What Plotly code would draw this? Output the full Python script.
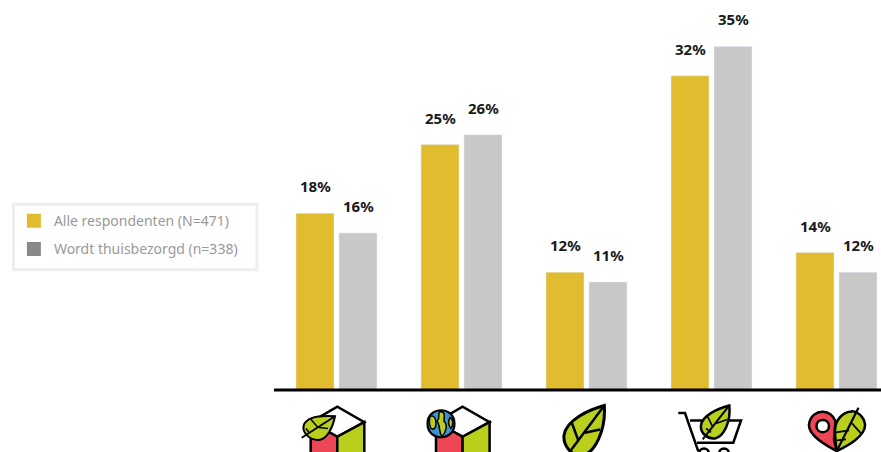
import plotly.graph_objects as go

categories = ["Woning blad", "Woning wereld", "Blad", "Winkelwagen", "Hart locatie"]
series_names = ["Alle respondenten (N=471)", "Wordt thuisbezorgd (n=338)"]
alle = [18, 25, 12, 32, 14]
thuis = [16, 26, 11, 35, 12]
value_labels_alle = ["18%", "25%", "12%", "32%", "14%"]
value_labels_thuis = ["16%", "26%", "11%", "35%", "12%"]

GOLD, GREY, SWATCH = "#e0bc2e", "#c8c8c8", "#888888"
RED, GREEN, BLUE = "#ee4655", "#b9cf1c", "#3f92d2"
W, H, L, BASE = 881, 452, 274, 390.5


def P(d):
    """Convert a pixel icon path to plot-relative paper coordinates."""
    out, isx = [], True
    for tok in d.split():
        if tok.isalpha():
            out.append(tok)
        else:
            v = float(tok)
            if isx:
                out.append(f"{(v - L) / (W - L):.5f}")
            else:
                out.append(f"{(BASE - v) / BASE:.5f}")
            isx = not isx
    return " ".join(out)


shapes = []


def add(d, fill="rgba(0,0,0,0)", lw=2.5):
    shapes.append(dict(type="path", path=P(d), xref="paper", yref="paper", layer="above",
                       fillcolor=fill, line=dict(color="#000", width=lw)))


def house(dx):
    add(f"M {310.7+dx} 422.7 L {337.3+dx} 407.3 L {364.3+dx} 422.7 L {337.3+dx} 437.3 Z", "#fff")
    add(f"M {310.7+dx} 422.7 L {337.3+dx} 437.3 L {337.3+dx} 470 L {310.7+dx} 470 Z", RED)
    add(f"M {364.3+dx} 422.7 L {337.3+dx} 437.3 L {337.3+dx} 470 L {364.3+dx} 470 Z", GREEN)


# Legend frame
shapes.append(dict(type="path", path=P("M 13.5 204.5 L 257 204.5 L 257 270 L 13.5 270 Z"),
                   xref="paper", yref="paper", layer="below", fillcolor="#fff",
                   line=dict(color="#eeeeee", width=3)))

house(0)
add("M 335 416.7 C 325 416 308 416 304 425 C 301 433 310 441 319 440.5 C 327 440 333 428 335 416.7 Z", GREEN, 2)
add("M 335 416.7 L 301.7 438.3", lw=1.8)
add("M 311 420 L 318 428 M 319 428 L 328 429 M 309 433 L 306 429", lw=1.5)

house(125.3)
add("M 427.5 424.3 C 427.5 406.3 454.5 406.3 454.5 424.3 C 454.5 442.3 427.5 442.3 427.5 424.3 Z", BLUE, 2.2)
add("M 430 417 C 434 415 436 419 436 424 C 436 428 434 431 431 429 C 429 425 429 421 430 417 Z", GREEN, 1.5)
add("M 440 412 C 446 412 444 418 444 422 C 448 425 446 433 442 437 C 438 432 441 426 437 422 C 441 418 437 415 440 412 Z", GREEN, 1.5)
add("M 450 418 C 454 420 453 426 451 429 C 448 426 448 421 450 418 Z", GREEN, 1.5)

# Leaf
add("M 604.3 406 C 590 410 566 420 564 436 C 563 447 572 456 580 456 C 595 456 606 430 604.3 406 Z", GREEN, 3)
add("M 604.3 406 L 570 452", lw=2.5)
add("M 571.7 423 L 578.3 441 M 600 430 L 585 433.3", lw=2.5)

# Cart
add("M 678.3 413.5 L 685 413.5 L 698.3 452", lw=2.5)
add("M 690 421 L 741 421 L 733.3 443.3 L 697 443.3", lw=2.5)
for cx in (704, 724):
    add(f"M {cx-5} 455 C {cx-5} 447 {cx+5} 447 {cx+5} 455", lw=2.5)
add("M 729.3 406 C 718 409 702 416 701 426 C 700 434 708 440 715 439 C 724 437 731 422 729.3 406 Z", GREEN, 2.5)
add("M 729.3 406 L 702.7 440", lw=2)
add("M 707 416 L 713 428 M 727 420 L 716 424 M 711 433 L 706 429", lw=1.6)

# Heart: map pin + leaf
add("M 836.7 451.7 C 826 446 808 436 809 425 C 810 416 817 412 823 412.3 C 829 412.5 833 416 835.5 421.7 L 834 440 Z", RED, 2.5)
add("M 816.5 426.7 C 816.5 418.5 829 418.5 829 426.7 C 829 434.7 816.5 434.7 816.5 426.7 Z", "#fff", 2.5)
add("M 836.7 451.7 C 846 447 866 437 865 425 C 864 417 857 411 851 412 C 842 413 835 421 835 431 C 835 438 836 446 836.7 451.7 Z", GREEN, 2.5)
add("M 858.5 408.3 L 837 451", lw=2.2)
add("M 836 433 L 849 431 M 852 424 L 861 434 M 837 441 L 846 440", lw=1.8)

fig = go.Figure()
fig.add_bar(x=categories, y=alle, marker_color=GOLD, showlegend=False, hoverinfo="skip")
fig.add_bar(x=categories, y=thuis, marker_color=GREY, showlegend=False, hoverinfo="skip")
for name, col in zip(series_names, [GOLD, SWATCH]):
    fig.add_scatter(x=[None], y=[None], mode="markers", name=name, legendgroup=name,
                    marker=dict(symbol="square", size=14, color=col))

ann = []
for i in range(len(categories)):
    for vals, labs, off in ((alle, value_labels_alle, -0.172), (thuis, value_labels_thuis, 0.172)):
        ann.append(dict(x=i + off, y=vals[i], text=f"<b>{labs[i]}</b>", showarrow=False, xref="x", yref="y",
                        yshift=27, yanchor="middle", font=dict(size=15, color="#1a1a1a", family="Noto Sans")))

fig.update_layout(
    width=W, height=H, autosize=False,
    margin=dict(l=L, r=0, t=0, b=H - BASE, pad=0),
    paper_bgcolor="#fff", plot_bgcolor="#fff",
    barmode="group", bargap=0.312, bargroupgap=0.116,
    shapes=shapes, annotations=ann,
    legend=dict(x=-0.4285, y=0.4738, xanchor="left", yanchor="top", xref="paper", yref="paper",
                borderwidth=0, bgcolor="rgba(0,0,0,0)",
                traceorder="grouped", tracegroupgap=7, itemclick=False, itemdoubleclick=False,
                font=dict(family="Noto Sans", size=14, color="#999999")),
    xaxis=dict(range=[-0.5, 4.356], showticklabels=False, ticks="", showgrid=False, zeroline=False,
               showline=False, fixedrange=True),
    yaxis=dict(range=[0, BASE / 9.83], visible=False, fixedrange=True),
)
fig.add_shape(type="line", xref="paper", yref="paper", x0=0, x1=1, y0=0, y1=0, layer="above",
              line=dict(color="#000", width=3))
fig.write_html("out.html", config=dict(displayModeBar=False),
               post_script="document.body.style.margin='0';document.documentElement.style.overflow='hidden';")
